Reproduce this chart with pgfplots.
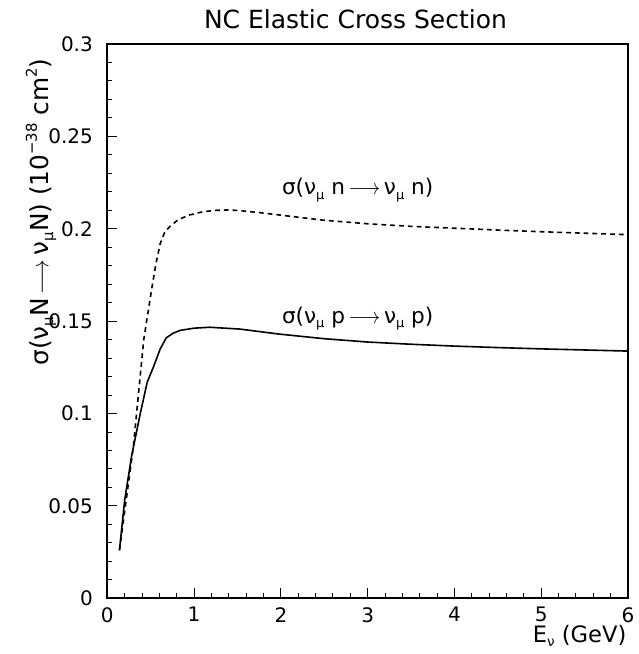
\documentclass[border=0pt]{standalone}
\usepackage{fontspec}
\setmainfont{DejaVu Sans}
\usepackage{graphicx}
\usepackage{pgfplots}
\pgfplotsset{compat=1.18}

% sizes for tick numbers and for titles
\newcommand\tickfont{\fontsize{10}{12}\selectfont}
\newcommand\titlefont{\fontsize{12.5}{15}\selectfont}
\newcommand\labfont{\fontsize{11.3}{13.5}\selectfont}
\newcommand\yfont{\fontsize{12.4}{15}\selectfont}
\newcommand\curvefont{\fontsize{10.8}{13}\selectfont}
% small lowered / raised text for indices
\newcommand\lo[1]{\raisebox{-0.35ex}{\scalebox{0.6}{#1}}}
\newcommand\hi[1]{\raisebox{0.85ex}{\scalebox{0.6}{#1}}}
\newcommand\arr{\,\scalebox{0.9}[1]{$\longrightarrow$}\,}

% cross sections in 10^-38 cm^2
\pgfplotstableread{
E      sig
0.14   0.026
0.20   0.053
0.28   0.077
0.38   0.100
0.46   0.117
0.53   0.125
0.61   0.135
0.68   0.141
0.76   0.1435
0.84   0.1450
1.00   0.1462
1.18   0.1467
1.53   0.1457
1.98   0.1430
2.50   0.1405
3.00   0.1387
3.50   0.1375
4.00   0.1365
4.50   0.1357
5.00   0.1350
5.50   0.1344
6.00   0.1338
}\protontable

\pgfplotstableread{
E      sig
0.14   0.026
0.30   0.082
0.36   0.111
0.42   0.140
0.51   0.167
0.56   0.181
0.61   0.192
0.66   0.198
0.72   0.2012
0.82   0.2050
0.95   0.2075
1.10   0.2092
1.26   0.2100
1.40   0.2102
1.53   0.2098
1.80   0.2085
2.10   0.2068
2.50   0.2046
3.00   0.2027
3.50   0.2013
4.00   0.2003
4.50   0.1993
5.00   0.1984
5.50   0.1976
6.00   0.1968
}\neutrontable

\begin{document}
\begin{tikzpicture}
\begin{axis}[
  name=ax,
  scale only axis,
  width=260.35pt, height=277.15pt,
  xmin=0, xmax=6, ymin=0, ymax=0.3,
  xtick={0,1,2,3,4,5,6},
  ytick={0,0.05,0.1,0.15,0.2,0.25,0.3},
  minor x tick num=4, minor y tick num=4,
  tick pos=left, tick align=inside,
  major tick length=5pt, minor tick length=2.5pt,
  axis line style={line width=0.9pt},
  every tick/.style={black, line width=0.5pt},
  /pgf/number format/assume math mode=true,
  ticklabel style={font=\tickfont},
  yticklabel style={/pgf/number format/fixed, /pgf/number format/precision=2, xshift=-3.7pt},
  xticklabel style={inner sep=1pt, yshift=-3.3pt},
  xlabel={E\lo{ν} (GeV)},
  xlabel style={font=\labfont, at={(axis description cs:1,0)}, anchor=base east, yshift=-22pt, xshift=-0.6pt, inner sep=0pt},
  clip=false,
]
\addplot[black, line width=0.8pt] table[x=E, y=sig] {\protontable};
\addplot[black, line width=0.8pt, dash pattern=on 2.4pt off 2pt] table[x=E, y=sig] {\neutrontable};
\node[font=\curvefont, anchor=base west, inner sep=0pt] at (axis cs:2.009,0.2183) {σ(ν\lo{μ} n\arr ν\lo{μ} n)};
\node[font=\curvefont, anchor=base west, inner sep=0pt] at (axis cs:2.009,0.1488) {σ(ν\lo{μ} p\arr ν\lo{μ} p)};
\node[font=\titlefont, anchor=base, inner sep=0pt] at ([yshift=7.85pt]rel axis cs:0.4767,1) {NC Elastic Cross Section};
\node[font=\yfont, rotate=90, anchor=base east, inner sep=0pt] at ([xshift=-29.4pt, yshift=-7pt]rel axis cs:0,1) {σ(ν\lo{μ}N\arr ν\lo{μ}N) (10\hi{−38} cm\hi{2})};
\end{axis}
\pgfresetboundingbox
\path[use as bounding box] ([shift={(-53.65pt,-27.85pt)}]ax.south west) rectangle ([shift={(265.35pt,299.15pt)}]ax.south west);
\end{tikzpicture}
\end{document}
